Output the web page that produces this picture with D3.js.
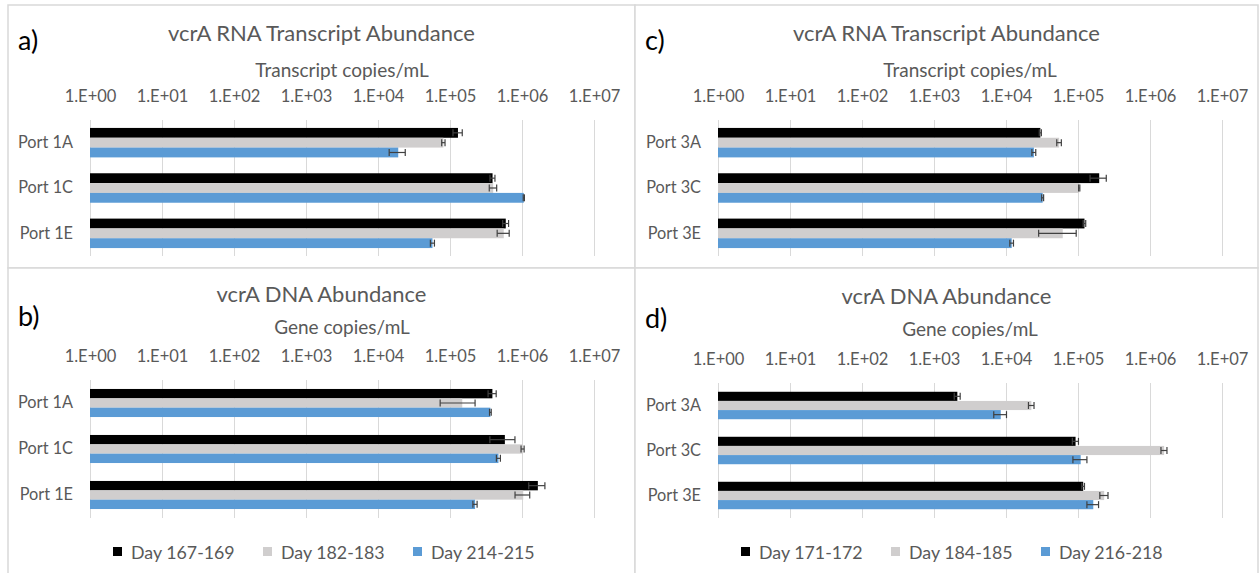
<!DOCTYPE html>
<html>
<head>
<meta charset="utf-8">
<script src="https://cdn.jsdelivr.net/npm/d3@7/dist/d3.min.js"></script>
<style>
  html, body { margin: 0; padding: 0; background: #ffffff; }
  svg { display: block; font-family: Lato, "Open Sans", sans-serif; }
</style>
</head>
<body>
<svg id="chart" width="1260" height="573"></svg>
<script>
// ---- Data ----------------------------------------------------------------
const portsLeft  = ["Port 1A", "Port 1C", "Port 1E"];
const portsRight = ["Port 3A", "Port 3C", "Port 3E"];
const seriesLeft  = ["Day 167-169", "Day 182-183", "Day 214-215"];
const seriesRight = ["Day 171-172", "Day 184-185", "Day 216-218"];
const tickValues = [1, 1e1, 1e2, 1e3, 1e4, 1e5, 1e6, 1e7];
const tickLabels = ["1.E+00", "1.E+01", "1.E+02", "1.E+03", "1.E+04", "1.E+05", "1.E+06", "1.E+07"];
const seriesColors = ["#000000", "#d0cece", "#5b9bd5"];

// a) RNA transcripts, ports 1A/1C/1E (one row per sampling period)
const rnaLeftMean = [
  [1.29e5, 3.90e5, 5.95e5],
  [8.10e4, 3.98e5, 5.58e5],
  [1.91e4, 1.06e6, 5.71e4]
];
const rnaLeftErr = [
  [1.9e4, 3.1e4, 5.6e4],
  [4.3e3, 4.7e4, 1.06e5],
  [4.8e3, 2.0e4, 3.7e3]
];
// b) DNA gene copies, ports 1A/1C/1E
const dnaLeftMean = [
  [3.88e5, 5.78e5, 1.66e6],
  [1.48e5, 1.02e6, 1.04e6],
  [3.64e5, 4.71e5, 2.23e5]
];
const dnaLeftErr = [
  [5.0e4, 2.2e5, 4.2e5],
  [7.5e4, 5.0e4, 2.4e5],
  [1.0e4, 3.0e4, 1.5e4]
];
// c) RNA transcripts, ports 3A/3C/3E
const rnaRightMean = [
  [3.00e4, 1.97e5, 1.23e5],
  [5.47e4, 1.04e5, 6.14e4],
  [2.44e4, 3.23e4, 1.20e4]
];
const rnaRightErr = [
  [1.0e3, 5.0e4, 5.0e3],
  [4.0e3, 2.0e3, 3.3e4],
  [1.5e3, 1.0e3, 7.0e2]
];
// d) DNA gene copies, ports 3A/3C/3E
const dnaRightMean = [
  [2.11e3, 9.25e4, 1.18e5],
  [2.25e4, 1.57e6, 2.31e5],
  [8.46e3, 1.09e5, 1.63e5]
];
const dnaRightErr = [
  [2.0e2, 9.0e3, 5.0e3],
  [2.0e3, 1.5e5, 3.0e4],
  [1.7e3, 2.4e4, 3.0e4]
];

// ---- Panel layout ----------------------------------------------------------
const panels = [
  { letter: "a)", title: "vcrA RNA Transcript Abundance", axisTitle: "Transcript copies/mL",
    ports: portsLeft, series: seriesLeft, mean: rnaLeftMean, err: rnaLeftErr,
    box: [8, 5, 635, 268], plot: [90, 120, 594, 256], pad: 0.35,
    titleY: 41, axisTitleY: 77, letterY: 50, legendY: null },
  { letter: "b)", title: "vcrA DNA Abundance", axisTitle: "Gene copies/mL",
    ports: portsLeft, series: seriesLeft, mean: dnaLeftMean, err: dnaLeftErr,
    box: [8, 268, 635, 580], plot: [90, 380, 594, 518], pad: 0.39,
    titleY: 302, axisTitleY: 334, letterY: 326, legendY: 552 },
  { letter: "c)", title: "vcrA RNA Transcript Abundance", axisTitle: "Transcript copies/mL",
    ports: portsRight, series: seriesRight, mean: rnaRightMean, err: rnaRightErr,
    box: [635, 5, 1258, 268], plot: [718, 120, 1222, 256], pad: 0.35,
    titleY: 41, axisTitleY: 77, letterY: 50, legendY: null },
  { letter: "d)", title: "vcrA DNA Abundance", axisTitle: "Gene copies/mL",
    ports: portsRight, series: seriesRight, mean: dnaRightMean, err: dnaRightErr,
    box: [635, 268, 1258, 580], plot: [718, 383, 1222, 518], pad: 0.39,
    titleY: 304, axisTitleY: 336, letterY: 328, legendY: 552 }
];

const svg = d3.select("#chart");
const textColor = "#595959";

panels.forEach(p => {
  const [bx0, by0, bx1, by1] = p.box;
  const [px0, py0, px1, py1] = p.plot;
  const g = svg.append("g");

  // chart frame
  g.append("rect")
    .attr("x", bx0).attr("y", by0)
    .attr("width", bx1 - bx0).attr("height", by1 - by0)
    .attr("fill", "#ffffff").attr("stroke", "#d9d9d9").attr("stroke-width", 1.5);

  const x = d3.scaleLog().domain([1, 1e7]).range([px0, px1]);
  const y = d3.scaleBand().domain(p.ports).range([py0, py1])
    .paddingInner(p.pad).paddingOuter(p.pad / 2);
  const ySeries = d3.scaleBand().domain(d3.range(p.series.length)).range([0, y.bandwidth()]);

  // vertical gridlines
  const grid = g.append("g").attr("transform", `translate(0,${py1})`)
    .call(d3.axisBottom(x).tickValues(tickValues).tickSize(-(py1 - py0)).tickFormat(""));
  grid.select(".domain").remove();
  grid.selectAll("line").attr("stroke", "#d9d9d9").attr("stroke-width", 1);

  // value axis labels along the top
  const top = g.append("g").attr("transform", `translate(0,${py0})`)
    .call(d3.axisTop(x).tickValues(tickValues).tickSize(0).tickPadding(18)
      .tickFormat((d, i) => tickLabels[i]));
  top.select(".domain").remove();
  top.selectAll("text").attr("fill", textColor).style("font-size", "16.5px")
    .style("font-family", "Lato, sans-serif");

  // category labels
  const left = g.append("g").attr("transform", `translate(${px0},0)`)
    .call(d3.axisLeft(y).tickSize(0).tickPadding(17));
  left.select(".domain").remove();
  left.selectAll("text").attr("fill", textColor).style("font-size", "16.3px")
    .style("font-family", "Lato, sans-serif");

  // bars and error bars
  p.series.forEach((s, si) => {
    const rows = p.ports.map((port, pi) => ({ port, v: p.mean[si][pi], e: p.err[si][pi] }));
    const sg = g.append("g");
    sg.selectAll("rect").data(rows).join("rect")
      .attr("x", x(1))
      .attr("y", d => y(d.port) + ySeries(si))
      .attr("width", d => x(d.v) - x(1))
      .attr("height", ySeries.bandwidth())
      .attr("fill", seriesColors[si]);

    const eg = sg.selectAll("g.err").data(rows).join("g").attr("class", "err")
      .attr("transform", d => `translate(0,${y(d.port) + ySeries(si) + ySeries.bandwidth() / 2})`);
    eg.append("line")
      .attr("x1", d => x(Math.max(d.v - d.e, 1))).attr("x2", d => x(d.v + d.e))
      .attr("y1", 0).attr("y2", 0);
    eg.append("line")
      .attr("x1", d => x(Math.max(d.v - d.e, 1))).attr("x2", d => x(Math.max(d.v - d.e, 1)))
      .attr("y1", -3.5).attr("y2", 3.5);
    eg.append("line")
      .attr("x1", d => x(d.v + d.e)).attr("x2", d => x(d.v + d.e))
      .attr("y1", -3.5).attr("y2", 3.5);
    eg.selectAll("line").attr("stroke", "#404040").attr("stroke-width", 1.2);
  });

  // titles
  g.append("text").attr("x", (bx0 + bx1) / 2).attr("y", p.titleY)
    .attr("text-anchor", "middle").attr("fill", textColor)
    .style("font-size", "22px").text(p.title);
  g.append("text").attr("x", (px0 + px1) / 2).attr("y", p.axisTitleY)
    .attr("text-anchor", "middle").attr("fill", textColor)
    .style("font-size", "19px").text(p.axisTitle);
  g.append("text").attr("x", bx0 + 10).attr("y", p.letterY)
    .attr("fill", "#000000").style("font-size", "27px").text(p.letter);

  // legend
  if (p.legendY !== null) {
    const lx0 = px0 + 23;
    const item = g.append("g").selectAll("g").data(p.series).join("g")
      .attr("transform", (d, i) => `translate(${lx0 + i * 150},${p.legendY})`);
    item.append("rect").attr("x", 0).attr("y", -5).attr("width", 9).attr("height", 9)
      .attr("fill", (d, i) => seriesColors[i]);
    item.append("text").attr("x", 18).attr("y", 6.5).attr("fill", textColor)
      .style("font-size", "17.8px").text(d => d);
  }
});
</script>
</body>
</html>
